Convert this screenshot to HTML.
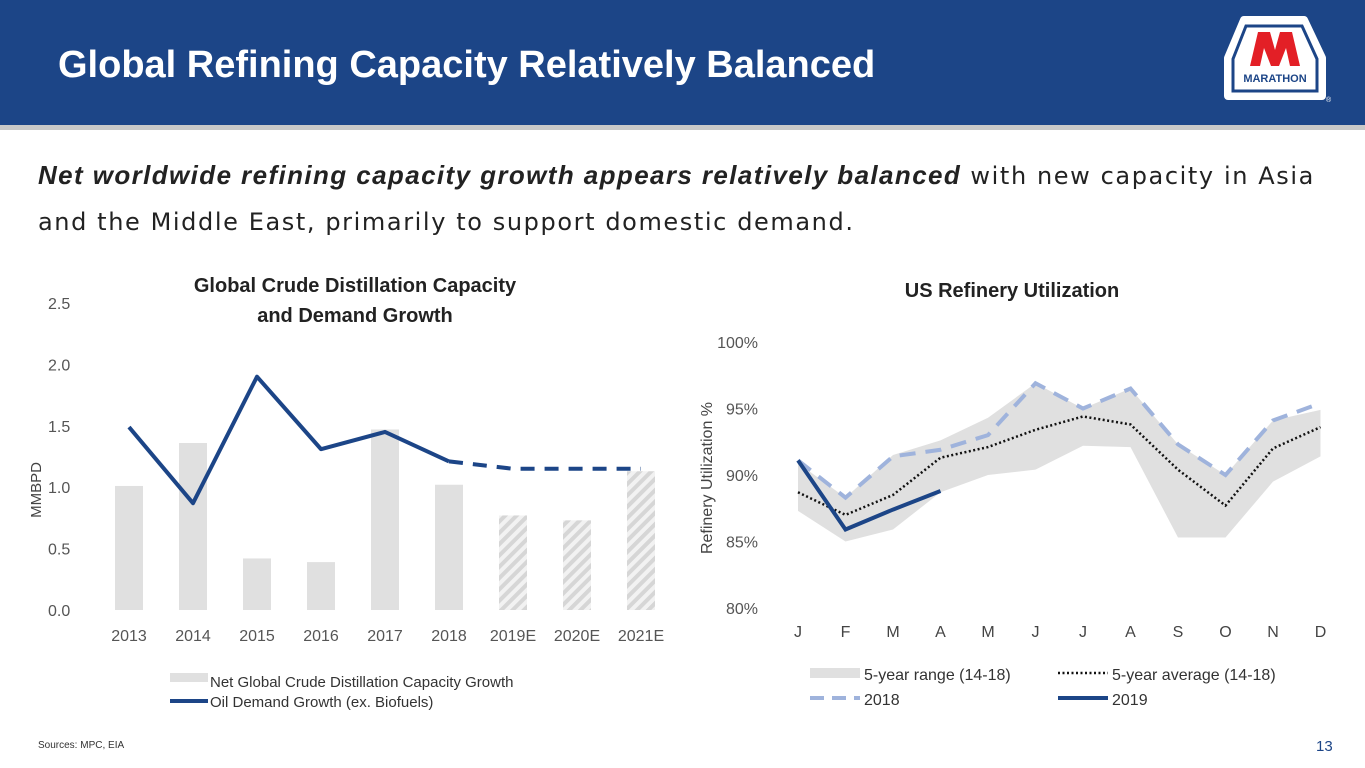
<!DOCTYPE html>
<html><head><meta charset="utf-8"><style>
body{margin:0;width:1365px;height:768px;background:#fff;font-family:"Liberation Sans",sans-serif;overflow:hidden;position:relative}
.hdr{position:absolute;left:0;top:0;width:1365px;height:125px;background:#1c4587;border-bottom:5px solid #c8c8c8}
.title{position:absolute;left:58px;top:44px;color:#fff;font-size:38px;font-weight:bold}
.sub{position:absolute;left:38px;top:152px;font-family:"DejaVu Sans",sans-serif;font-size:24px;letter-spacing:1.6px;color:#222;line-height:46px;width:1320px;white-space:nowrap}
.sub b{font-family:"Liberation Sans",sans-serif;font-size:26px;letter-spacing:1.4px}
svg text{font-family:"Liberation Sans",sans-serif}
</style></head><body>
<div class="hdr">
<div class="title">Global Refining Capacity Relatively Balanced</div>
<svg style="position:absolute;left:1222px;top:14px" width="112" height="100">
<path d="M22 6 L82 6 L100 44 L100 82 L6 82 L6 44 Z" fill="#fff" stroke="#fff" stroke-width="8" stroke-linejoin="round"/>
<path d="M24 12 L80 12 L95 45 L95 77 L11 77 L11 45 Z" fill="none" stroke="#1c4587" stroke-width="3"/>
<path d="M28 52 L36 18 L48 18 L53 36 L58 18 L70 18 L78 52 L68 52 L64 34 L57 52 L49 52 L42 34 L38 52 Z" fill="#e31f26"/>
<text x="53" y="68" font-size="11" font-weight="bold" fill="#1c4587" text-anchor="middle">MARATHON</text>
<text x="104" y="88" font-size="7" fill="#fff">®</text>
</svg>
</div>
<div class="sub"><b><i>Net worldwide refining capacity growth appears relatively balanced</i></b> with new capacity in Asia<br>and the Middle East, primarily to support domestic demand.</div>

<svg id="left" style="position:absolute;left:0;top:260px" width="700" height="460">
<defs><pattern id="hatch" width="8" height="8" patternUnits="userSpaceOnUse" patternTransform="rotate(45)"><rect width="8" height="8" fill="#f2f2f2"/><rect width="4" height="8" fill="#d6d6d6"/></pattern></defs>
<text x="355" y="32" font-size="20" font-weight="bold" text-anchor="middle" fill="#222">Global Crude Distillation Capacity</text>
<text x="355" y="62" font-size="20" font-weight="bold" text-anchor="middle" fill="#222">and Demand Growth</text>
<text transform="translate(41,230) rotate(-90)" font-size="15" fill="#444" text-anchor="middle">MMBPD</text>
<g id="lg"></g>
<rect x="170" y="413" width="38" height="9" fill="#e0e0e0"/>
<text x="210" y="427" font-size="15" fill="#333">Net Global Crude Distillation Capacity Growth</text>
<line x1="170" y1="441" x2="208" y2="441" stroke="#1c4587" stroke-width="4"/>
<text x="210" y="447" font-size="15" fill="#333">Oil Demand Growth (ex. Biofuels)</text>
</svg>

<svg id="right" style="position:absolute;left:680px;top:260px" width="685" height="460">
<text x="332" y="37" font-size="20" font-weight="bold" text-anchor="middle" fill="#222">US Refinery Utilization</text>
<text transform="translate(32,218) rotate(-90)" font-size="16" fill="#444" text-anchor="middle">Refinery Utilization %</text>
<g id="rg"></g>
<rect x="130" y="408" width="50" height="10" fill="#e0e0e0"/>
<text x="184" y="420" font-size="16" fill="#333">5-year range (14-18)</text>
<line x1="378" y1="413" x2="428" y2="413" stroke="#111" stroke-width="2.5" stroke-dasharray="2,2.5"/>
<text x="432" y="420" font-size="16" fill="#333">5-year average (14-18)</text>
<line x1="130" y1="438" x2="180" y2="438" stroke="#9fb3dc" stroke-width="4" stroke-dasharray="14,8"/>
<text x="184" y="445" font-size="16" fill="#333">2018</text>
<line x1="378" y1="438" x2="428" y2="438" stroke="#1c4587" stroke-width="4"/>
<text x="432" y="445" font-size="16" fill="#333">2019</text>
</svg>

<div style="position:absolute;left:38px;top:740px;font-size:10px;color:#333">Sources: MPC, EIA</div>
<div style="position:absolute;left:1316px;top:738px;font-size:15px;color:#1c4587">13</div>

<script>
const years=["2013","2014","2015","2016","2017","2018","2019E","2020E","2021E"];
const capacity=[1.01,1.36,0.42,0.39,1.47,1.02,0.77,0.73,1.13];
const demand=[1.49,0.87,1.90,1.31,1.45,1.21,1.15,1.15,1.15];
const estimated=[false,false,false,false,false,false,true,true,true];
const yTicks=[0,0.5,1.0,1.5,2.0,2.5];

const months=["J","F","M","A","M","J","J","A","S","O","N","D"];
const rangeHigh=[90.9,88.3,91.5,92.6,94.3,96.9,95.0,96.5,92.3,90.0,94.1,94.9];
const rangeLow=[87.3,85.0,85.9,88.7,90.0,90.4,92.2,92.1,85.3,85.3,89.5,91.4];
const avg5=[88.7,87.0,88.5,91.3,92.1,93.4,94.4,93.8,90.4,87.7,92.0,93.6];
const y2018=[91.1,88.3,91.4,91.9,93.0,96.9,95.0,96.5,92.3,90.0,94.1,95.4];
const y2019=[91.1,85.9,87.4,88.8];
const pctTicks=[80,85,90,95,100];

const NS="http://www.w3.org/2000/svg";
function mk(p,t,a){const e=document.createElementNS(NS,t);for(const k in a)e.setAttribute(k,a[k]);p.appendChild(e);return e;}

const lg=document.getElementById('lg');
const lx=i=>129+64*i, ly=v=>350-v*122.8;
yTicks.forEach(t=>{const e=mk(lg,'text',{x:48,y:ly(t)+6,'font-size':16,fill:'#555'});e.textContent=t.toFixed(1);

});
years.forEach((y,i)=>{
 const b=mk(lg,'rect',{x:lx(i)-14,y:ly(capacity[i]),width:28,height:ly(0)-ly(capacity[i]),fill:estimated[i]?'url(#hatch)':'#e0e0e0'});
 
 
 const t=mk(lg,'text',{x:lx(i),y:381,'font-size':16,fill:'#555','text-anchor':'middle'});t.textContent=y;
 
 
});
let solid=[],dash=[];
demand.forEach((v,i)=>{const p=lx(i)+','+ly(v);if(!estimated[i])solid.push(p);if(estimated[i]||(i+1<demand.length&&estimated[i+1]))dash.push(p);});
const ls=mk(lg,'polyline',{points:solid.join(' '),fill:'none',stroke:'#1c4587','stroke-width':4,'stroke-linejoin':'round'});


const ld=mk(lg,'polyline',{points:dash.join(' '),fill:'none',stroke:'#1c4587','stroke-width':4,'stroke-dasharray':'14,10'});



const rg=document.getElementById('rg');
const rx=i=>118+47.5*i, ry=v=>348-(v-80)*13.3;
pctTicks.forEach(t=>{const e=mk(rg,'text',{x:78,y:ry(t)+6,'font-size':16,fill:'#555','text-anchor':'end'});e.textContent=t+'%';

});
const poly=rangeHigh.map((v,i)=>rx(i)+','+ry(v)).concat(rangeLow.map((v,i)=>rx(i)+','+ry(v)).reverse());
const area=mk(rg,'polygon',{points:poly.join(' '),fill:'#e0e0e0'});


const la=mk(rg,'polyline',{points:avg5.map((v,i)=>rx(i)+','+ry(v)).join(' '),fill:'none',stroke:'#111','stroke-width':2.5,'stroke-dasharray':'2,2.5'});


const l18=mk(rg,'polyline',{points:y2018.map((v,i)=>rx(i)+','+ry(v)).join(' '),fill:'none',stroke:'#9fb3dc','stroke-width':4,'stroke-dasharray':'16,10'});


const l19=mk(rg,'polyline',{points:y2019.map((v,i)=>rx(i)+','+ry(v)).join(' '),fill:'none',stroke:'#1c4587','stroke-width':4});


months.forEach((m,i)=>{const t=mk(rg,'text',{x:rx(i),y:377,'font-size':16,fill:'#444','text-anchor':'middle'});t.textContent=m;

});
</script>
</body></html>
